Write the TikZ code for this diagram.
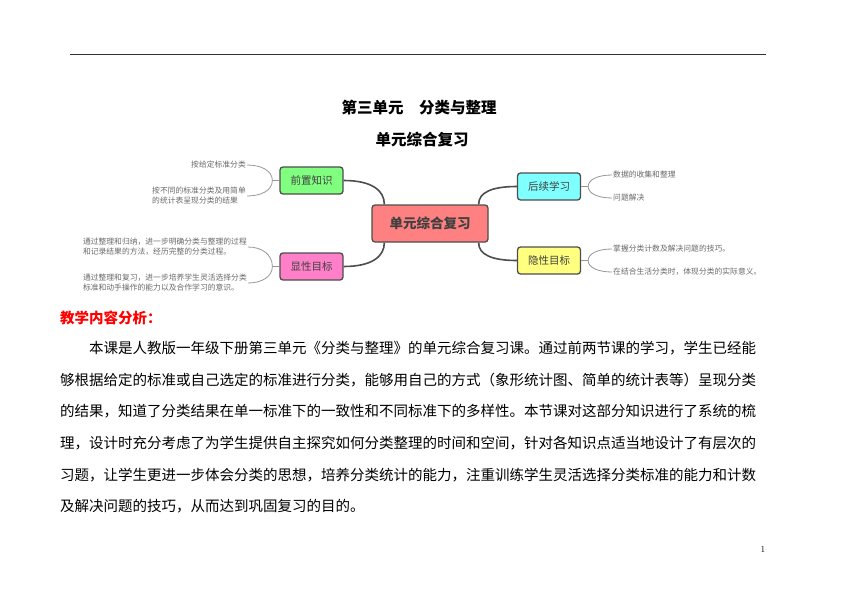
\documentclass[tikz,border=0pt]{standalone}
\usepackage{fontspec}
\newfontfamily\cjk{Noto Sans CJK SC}
\XeTeXlinebreaklocale "zh"
\XeTeXlinebreakskip=0pt plus 1pt
\usetikzlibrary{positioning}

\definecolor{mmborder}{RGB}{77,77,77}
\definecolor{mmtext}{RGB}{64,64,64}
\definecolor{leafgray}{RGB}{105,105,105}
\definecolor{twiggray}{RGB}{150,150,150}
\definecolor{hubred}{RGB}{255,128,128}
\definecolor{pregreen}{RGB}{128,255,128}
\definecolor{vispink}{RGB}{255,128,200}
\definecolor{nxtcyan}{RGB}{128,255,255}
\definecolor{hidyellow}{RGB}{255,255,128}

\begin{document}
\begin{tikzpicture}[x=1pt,y=-1pt,
  topic/.style={draw=mmborder,line width=1.3pt,rounded corners=3pt,minimum width=63pt,minimum height=27pt,inner sep=0pt,text=mmtext,font=\cjk\fontsize{10.5}{12}\selectfont},
  hubbox/.style={topic,minimum width=116pt,minimum height=37pt,font=\cjk\bfseries\fontsize{13.5}{15}\selectfont},
  leaf/.style={inner sep=1pt,align=left,text=leafgray,font=\cjk\fontsize{7.8}{10}\selectfont},
  branch/.style={draw=mmborder,line width=1.6pt},
  twig/.style={draw=twiggray,line width=0.8pt},
  bodyline/.style={anchor=west,inner sep=0pt,font=\cjk\fontsize{14.5}{14.5}\selectfont}]
\useasboundingbox (0,0) rectangle (860,608);

% header rule and titles
\draw[line width=0.9pt,black!80] (70,54) -- (766,54);
\node[font=\cjk\bfseries\fontsize{15.5}{16}\selectfont] (title) at (419,108) {第三单元　分类与整理};
\node[font=\cjk\bfseries\fontsize{15.5}{16}\selectfont] (subtitle) at (422,140) {单元综合复习};

% mind map
\node[hubbox,fill=hubred] (hub) at (430,223.5) {单元综合复习};
\node[topic,fill=pregreen] (pre) at (311.5,180.5) {前置知识};
\node[topic,fill=vispink] (vis) at (311.5,266.5) {显性目标};
\node[topic,fill=nxtcyan] (nxt) at (549,186.5) {后续学习};
\node[topic,fill=hidyellow] (hid) at (549,260.5) {隐性目标};

\draw[branch] (pre.east) .. controls +(28,0) and +(0,-14) .. ([xshift=13pt]hub.north west);
\draw[branch] (vis.east) .. controls +(28,0) and +(0,14) .. ([xshift=13pt]hub.south west);
\draw[branch] (nxt.west) .. controls +(-25,0) and +(0,-12) .. ([xshift=-10pt]hub.north east);
\draw[branch] (hid.west) .. controls +(-25,0) and +(0,12) .. ([xshift=-10pt]hub.south east);

% leaves
\node[leaf,anchor=east] (leafA) at (247,165) {按给定标准分类};
\node[leaf,anchor=east] (leafB) at (247,196) {按不同的标准分类及用简单\\的统计表呈现分类的结果};
\node[leaf,anchor=east] (leafC) at (248,247) {通过整理和归纳，进一步明确分类与整理的过程\\和记录结果的方法，经历完整的分类过程。};
\node[leaf,anchor=east] (leafD) at (248,283) {通过整理和复习，进一步培养学生灵活选择分类\\标准和动手操作的能力以及合作学习的意识。};
\node[leaf,anchor=west] (leafE) at (612,175) {数据的收集和整理};
\node[leaf,anchor=west] (leafF) at (612,198) {问题解决};
\node[leaf,anchor=west] (leafG) at (612,249) {掌握分类计数及解决问题的技巧。};
\node[leaf,anchor=west] (leafH) at (612,272) {在结合生活分类时，体现分类的实际意义。};

\draw[twig] (pre.west) -- ++(-7,0) coordinate (forkA);
\draw[twig] (forkA) .. controls +(0,-10) and +(14,0) .. (leafA.east);
\draw[twig] (forkA) .. controls +(0,10) and +(14,0) .. (leafB.east);
\draw[twig] (vis.west) -- ++(-7,0) coordinate (forkB);
\draw[twig] (forkB) .. controls +(0,-12) and +(14,0) .. (leafC.east);
\draw[twig] (forkB) .. controls +(0,10) and +(14,0) .. (leafD.east);
\draw[twig] (nxt.east) -- ++(7,0) coordinate (forkC);
\draw[twig] (forkC) .. controls +(0,-7) and +(-14,0) .. (leafE.west);
\draw[twig] (forkC) .. controls +(0,7) and +(-14,0) .. (leafF.west);
\draw[twig] (hid.east) -- ++(7,0) coordinate (forkD);
\draw[twig] (forkD) .. controls +(0,-7) and +(-14,0) .. (leafG.west);
\draw[twig] (forkD) .. controls +(0,7) and +(-14,0) .. (leafH.west);

% analysis text
\node[bodyline,text=red,font=\cjk\bfseries\fontsize{14.5}{14.5}\selectfont] (head) at (60,318) {教学内容分析：};
\node[bodyline] (line1) at (89,348) {\makebox[668pt][s]{本课是人教版一年级下册第三单元《分类与整理》的单元综合复习课。通过前两节课的学习，学生已经能}};
\node[bodyline] (line2) at (60,380) {\makebox[697pt][s]{够根据给定的标准或自己选定的标准进行分类，能够用自己的方式（象形统计图、简单的统计表等）呈现分类}};
\node[bodyline] (line3) at (60,411) {\makebox[697pt][s]{的结果，知道了分类结果在单一标准下的一致性和不同标准下的多样性。本节课对这部分知识进行了系统的梳}};
\node[bodyline] (line4) at (60,443) {\makebox[697pt][s]{理，设计时充分考虑了为学生提供自主探究如何分类整理的时间和空间，针对各知识点适当地设计了有层次的}};
\node[bodyline] (line5) at (60,475) {\makebox[697pt][s]{习题，让学生更进一步体会分类的思想，培养分类统计的能力，注重训练学生灵活选择分类标准的能力和计数}};
\node[bodyline] (line6) at (60,506) {及解决问题的技巧，从而达到巩固复习的目的。};

\node[font=\fontsize{9}{9}\selectfont] (pagenum) at (763,549) {1};
\end{tikzpicture}
\end{document}
